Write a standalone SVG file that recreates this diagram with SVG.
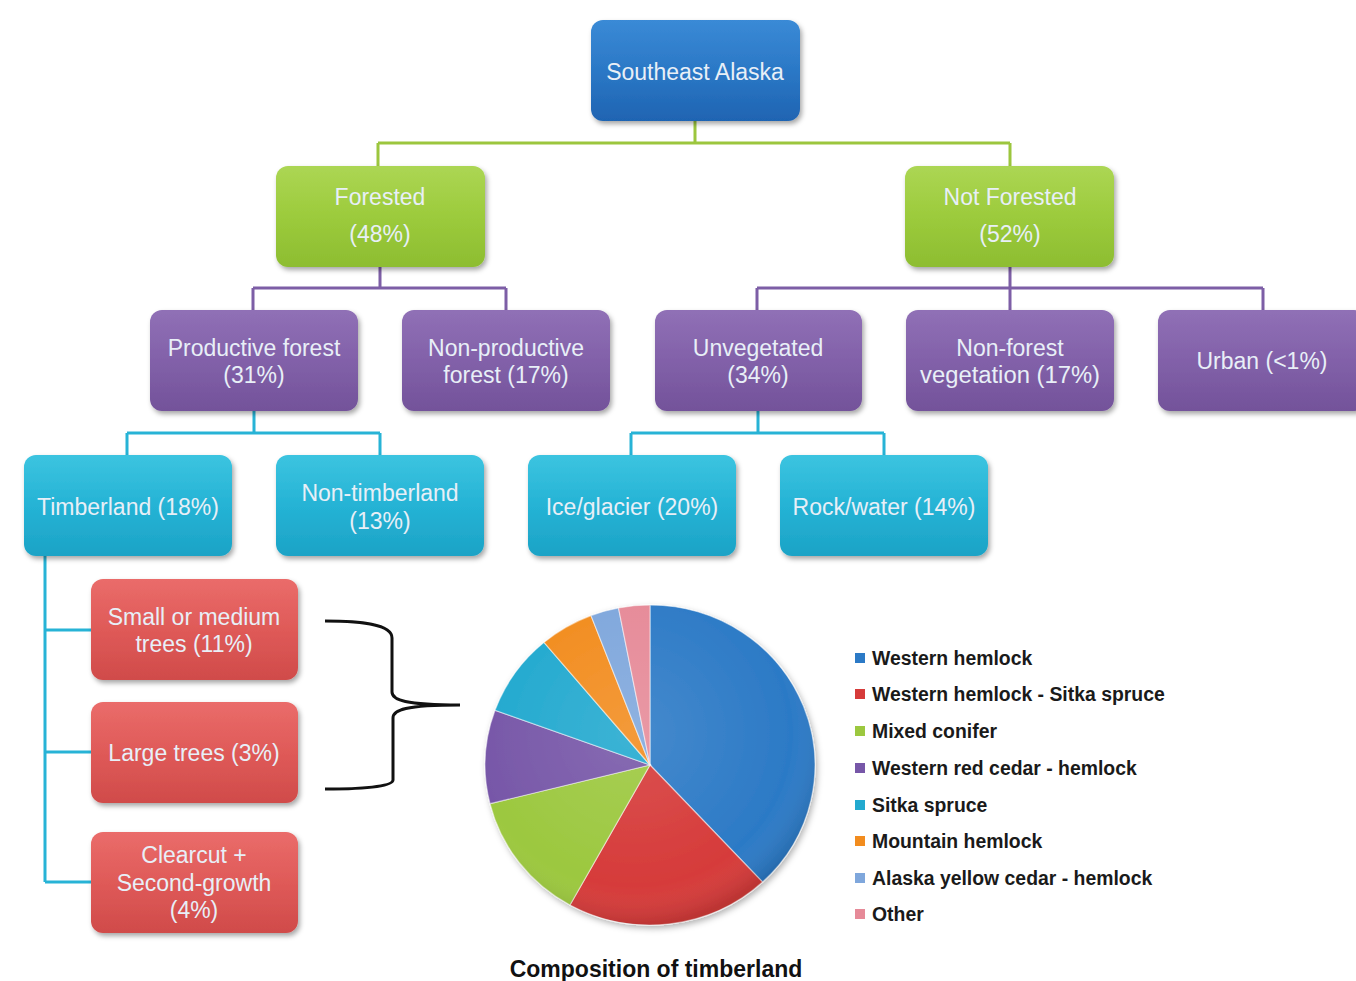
<svg xmlns="http://www.w3.org/2000/svg" width="1356" height="981" viewBox="0 0 1356 981">
<defs>
<filter id="sh" x="-10%" y="-10%" width="125%" height="130%">
<feDropShadow dx="2" dy="3" stdDeviation="2.5" flood-color="#000" flood-opacity="0.35"/>
</filter>
<filter id="psh" x="-10%" y="-10%" width="125%" height="125%">
<feDropShadow dx="2" dy="3" stdDeviation="3" flood-color="#000" flood-opacity="0.3"/>
</filter>
<linearGradient id="gBlue" x1="0" y1="0" x2="0" y2="1"><stop offset="0" stop-color="#3a8ad6"/><stop offset="0.5" stop-color="#2b78c6"/><stop offset="1" stop-color="#1f64b2"/></linearGradient>
<linearGradient id="gGreen" x1="0" y1="0" x2="0" y2="1"><stop offset="0" stop-color="#acd654"/><stop offset="0.5" stop-color="#9ccb3c"/><stop offset="1" stop-color="#8dbd31"/></linearGradient>
<linearGradient id="gPurple" x1="0" y1="0" x2="0" y2="1"><stop offset="0" stop-color="#9070b6"/><stop offset="0.5" stop-color="#8261a9"/><stop offset="1" stop-color="#73529a"/></linearGradient>
<linearGradient id="gCyan" x1="0" y1="0" x2="0" y2="1"><stop offset="0" stop-color="#3cc4e0"/><stop offset="0.5" stop-color="#25b3d5"/><stop offset="1" stop-color="#1ca3c6"/></linearGradient>
<linearGradient id="gRed" x1="0" y1="0" x2="0" y2="1"><stop offset="0" stop-color="#ea6c6a"/><stop offset="0.5" stop-color="#df5a58"/><stop offset="1" stop-color="#d04b4a"/></linearGradient>
<radialGradient id="pieShade" cx="0.45" cy="0.4" r="0.6"><stop offset="0" stop-color="#fff" stop-opacity="0.12"/><stop offset="0.8" stop-color="#fff" stop-opacity="0"/><stop offset="1" stop-color="#000" stop-opacity="0.12"/></radialGradient>
</defs>
<style>
.box{stroke:none;filter:url(#sh)}
.blue{fill:url(#gBlue)}
.green{fill:url(#gGreen)}
.purple{fill:url(#gPurple)}
.cyan{fill:url(#gCyan)}
.red{fill:url(#gRed)}
.t{font-family:"Liberation Sans",Arial,sans-serif;font-size:23px;fill:#e8eff7;text-anchor:middle}
.lg{font-family:"Liberation Sans",Arial,sans-serif;font-size:19.4px;font-weight:bold;fill:#1a1a1a}
.title{font-family:"Liberation Sans",Arial,sans-serif;font-size:23px;font-weight:bold;fill:#111;text-anchor:middle}
.cg{fill:none;stroke:#9cc63e;stroke-width:3}
.cp{fill:none;stroke:#7d5ea6;stroke-width:3}
.cc{fill:none;stroke:#27b3d6;stroke-width:3}
.slice{stroke:#fff;stroke-opacity:0.5;stroke-width:1.2}
</style>
<rect width="1356" height="981" fill="#ffffff"/>

<g id="connectors">
<path class="cg" d="M695,120 V143 M378,143 H1010 M378,143 V166 M1010,143 V166"/>
<path class="cp" d="M380,267 V288 M253,288 H506 M253,288 V310 M506,288 V310"/>
<path class="cp" d="M1010,267 V288 M757,288 H1263 M757,288 V310 M1010,288 V310 M1263,288 V310"/>
<path class="cc" d="M254,411 V433 M127,433 H380 M127,433 V455 M380,433 V455"/>
<path class="cc" d="M758,411 V433 M631,433 H884 M631,433 V455 M884,433 V455"/>
<path class="cc" d="M45,556 V882 M45,630 H91 M45,752 H91 M45,882 H91"/>
<path id="brace" fill="none" stroke="#111" stroke-width="3" d="M325,621 C360,621 392,624 392,638 V692 C392,700 405,705 460,705 C405,705 393,710 393,718 V780 C393,787 360,789 325,789"/>
</g>

<g id="n-se-alaska"><rect class="box blue" x="591" y="20" width="209" height="101" rx="12"/><text class="t" x="695" y="80">Southeast Alaska</text></g>
<g id="n-forested"><rect class="box green" x="276" y="166" width="209" height="101" rx="12"/><text class="t" x="380" y="205">Forested</text><text class="t" x="380" y="242">(48%)</text></g>
<g id="n-not-forested"><rect class="box green" x="905" y="166" width="209" height="101" rx="12"/><text class="t" x="1010" y="205">Not Forested</text><text class="t" x="1010" y="242">(52%)</text></g>

<g id="n-productive"><rect class="box purple" x="150" y="310" width="208" height="101" rx="12"/><text class="t" x="254" y="356">Productive forest</text><text class="t" x="254" y="383">(31%)</text></g>
<g id="n-nonproductive"><rect class="box purple" x="402" y="310" width="208" height="101" rx="12"/><text class="t" x="506" y="356">Non-productive</text><text class="t" x="506" y="383">forest (17%)</text></g>
<g id="n-unvegetated"><rect class="box purple" x="655" y="310" width="207" height="101" rx="12"/><text class="t" x="758" y="356">Unvegetated</text><text class="t" x="758" y="383">(34%)</text></g>
<g id="n-nonforest-veg"><rect class="box purple" x="906" y="310" width="208" height="101" rx="12"/><text class="t" x="1010" y="356">Non-forest</text><text class="t" x="1010" y="383" textLength="180" lengthAdjust="spacingAndGlyphs">vegetation (17%)</text></g>
<g id="n-urban"><rect class="box purple" x="1158" y="310" width="208" height="101" rx="12"/><text class="t" x="1262" y="369">Urban (&lt;1%)</text></g>

<g id="n-timberland"><rect class="box cyan" x="24" y="455" width="208" height="101" rx="12"/><text class="t" x="128" y="515">Timberland (18%)</text></g>
<g id="n-nontimberland"><rect class="box cyan" x="276" y="455" width="208" height="101" rx="12"/><text class="t" x="380" y="501">Non-timberland</text><text class="t" x="380" y="529">(13%)</text></g>
<g id="n-ice"><rect class="box cyan" x="528" y="455" width="208" height="101" rx="12"/><text class="t" x="632" y="515">Ice/glacier (20%)</text></g>
<g id="n-rock"><rect class="box cyan" x="780" y="455" width="208" height="101" rx="12"/><text class="t" x="884" y="515">Rock/water (14%)</text></g>

<g id="n-small"><rect class="box red" x="91" y="579" width="207" height="101" rx="12"/><text class="t" x="194" y="625">Small or medium</text><text class="t" x="194" y="652">trees (11%)</text></g>
<g id="n-large"><rect class="box red" x="91" y="702" width="207" height="101" rx="12"/><text class="t" x="194" y="761">Large trees (3%)</text></g>
<g id="n-clearcut"><rect class="box red" x="91" y="832" width="207" height="101" rx="12"/><text class="t" x="194" y="863">Clearcut +</text><text class="t" x="194" y="891">Second-growth</text><text class="t" x="194" y="918">(4%)</text></g>

<g id="pie" filter="url(#psh)">
<path class="slice" fill="#2c7ac6" d="M650,765 L650,605 A165,160 0 0 1 762.5,882 Z"/>
<path class="slice" fill="#d63b3a" d="M650,765 L762.5,882 A165,160 0 0 1 570,905 Z"/>
<path class="slice" fill="#9cc83f" d="M650,765 L570,905 A165,160 0 0 1 490,803.7 Z"/>
<path class="slice" fill="#7757a8" d="M650,765 L490,803.7 A165,160 0 0 1 495,710.3 Z"/>
<path class="slice" fill="#22a9cf" d="M650,765 L495,710.3 A165,160 0 0 1 544,642.4 Z"/>
<path class="slice" fill="#f28c1e" d="M650,765 L544,642.4 A165,160 0 0 1 591,615.6 Z"/>
<path class="slice" fill="#7fa7dc" d="M650,765 L591,615.6 A165,160 0 0 1 618.5,608 Z"/>
<path class="slice" fill="#e68a98" d="M650,765 L618.5,608 A165,160 0 0 1 650,605 Z"/>
<ellipse cx="650" cy="765" rx="165" ry="160" fill="url(#pieShade)"/>
</g>

<g id="legend">
<rect x="855" y="653" width="10" height="10" fill="#2c7ac6"/><text class="lg" x="872" y="665">Western hemlock</text>
<rect x="855" y="689" width="10" height="10" fill="#d63b3a"/><text class="lg" x="872" y="701">Western hemlock - Sitka spruce</text>
<rect x="855" y="726" width="10" height="10" fill="#9cc83f"/><text class="lg" x="872" y="738">Mixed conifer</text>
<rect x="855" y="763" width="10" height="10" fill="#7757a8"/><text class="lg" x="872" y="775">Western red cedar - hemlock</text>
<rect x="855" y="800" width="10" height="10" fill="#22a9cf"/><text class="lg" x="872" y="812">Sitka spruce</text>
<rect x="855" y="836" width="10" height="10" fill="#f28c1e"/><text class="lg" x="872" y="848">Mountain hemlock</text>
<rect x="855" y="873" width="10" height="10" fill="#7fa7dc"/><text class="lg" x="872" y="885">Alaska yellow cedar - hemlock</text>
<rect x="855" y="909" width="10" height="10" fill="#e68a98"/><text class="lg" x="872" y="921">Other</text>
</g>

<text class="title" x="656" y="977">Composition of timberland</text>
</svg>
